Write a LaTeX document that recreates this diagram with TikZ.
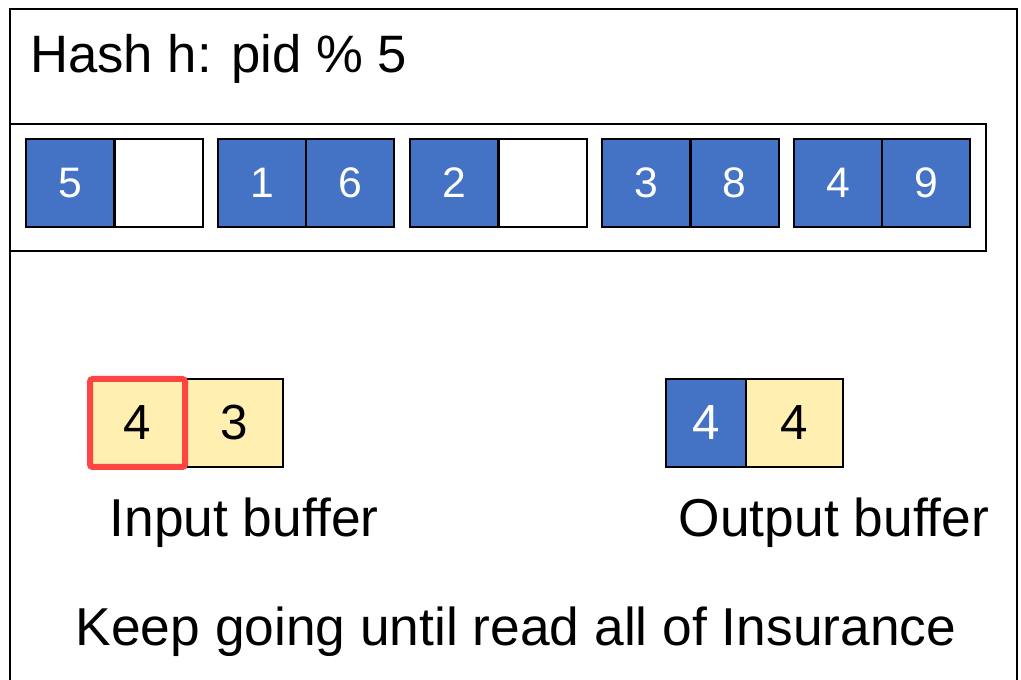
\documentclass[tikz,border=0pt]{standalone}
\usepackage{fontspec}
\setmainfont{Liberation Sans}
\definecolor{hblue}{HTML}{4472C4}
\definecolor{hyellow}{HTML}{FFEFB0}
\definecolor{hred}{HTML}{FF4444}

\begin{document}
\begin{tikzpicture}[x=0.75pt,y=-0.75pt,
  cell/.style={rectangle,draw=black,line width=1.5pt,minimum width=66pt,minimum height=66pt,inner sep=0pt,font=\fontsize{32}{38}\selectfont},
  full/.style={cell,fill=hblue,text=white},
  free/.style={cell,fill=white},
  tuple/.style={cell,fill=hyellow,minimum width=72.75pt},
  big/.style={font=\fontsize{37}{44}\selectfont},
  txt/.style={inner sep=0pt,font=\fontsize{40}{48}\selectfont}]
\useasboundingbox (0,0) rectangle (1021,680);
% frame and bucket strip
\draw[line width=1.5pt] (10,680) -- (10,9) -- (1017,9) -- (1017,680);
\draw[line width=1.5pt] (10,124) rectangle (986,251);
\path (30,73) node(hash)[txt,anchor=base west,font=\fontsize{39.5}{48}\selectfont]{Hash h: pid \% 5}
(70,183) node(b1a)[full]{5}
(158.5,183) node(b1b)[free]{}
(262,183) node(b2a)[full]{1}
(350,183) node(b2b)[full]{6}
(454,183) node(b3a)[full]{2}
(542.5,183) node(b3b)[free]{}
(646,183) node(b4a)[full]{3}
(734.5,183) node(b4b)[full]{8}
(838,183) node(b5a)[full]{4}
(926,183) node(b5b)[full]{9};
% buffers
\path (234.5,423) node(in2)[tuple,big]{3}
(137.5,423) node(in1)[tuple,big,draw=hred,line width=4.5pt,rounded corners=2pt,minimum width=71.25pt]{4}
(706,423) node(out1)[full,big,minimum width=60pt]{4}
(794.5,423) node(out2)[tuple,big]{4}
(244,537) node(inlab)[txt,anchor=base]{Input buffer}
(834,537) node(outlab)[txt,anchor=base]{Output buffer}
(516,645) node(note)[txt,anchor=base]{Keep going until read all of Insurance};
\end{tikzpicture}
\end{document}
